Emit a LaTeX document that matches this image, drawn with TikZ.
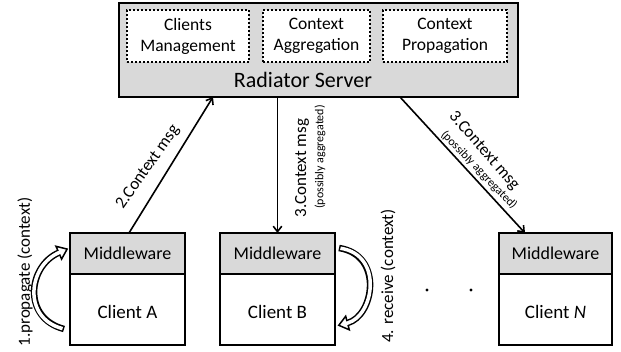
\documentclass[tikz,border=0pt]{standalone}
\usepackage{fontspec}
\setmainfont{Carlito}
\usetikzlibrary{arrows.meta,calc}
\definecolor{boxgray}{HTML}{D9D9D9}
\begin{document}
\begin{tikzpicture}[x=1pt,y=-1pt,
  box/.style={draw, line width=1.8pt, inner sep=0pt, outer sep=0pt, anchor=north west},
  dotbox/.style={draw, line width=2pt, dash pattern=on 2pt off 2pt, fill=white, inner sep=0pt, outer sep=0pt,
    anchor=north west, align=center, font=\fontsize{17.5}{21}\selectfont},
  mw/.style={box, fill=boxgray, minimum width=115pt, minimum height=41pt, font=\fontsize{18}{21}\selectfont},
  client/.style={box, minimum width=115pt, minimum height=112pt},
  ctext/.style={font=\fontsize{19}{22}\selectfont, inner sep=0pt},
  lbl/.style={font=\fontsize{17}{20}\selectfont, inner sep=0pt},
  small/.style={font=\fontsize{12}{14}\selectfont, inner sep=0pt},
  arr/.style={line width=1.6pt, -{Straight Barb[length=5.5pt, width=8.5pt, line width=1.6pt]}},
  band/.style={line width=6.5pt, black},
  bandin/.style={line width=3.5pt, white},
  head/.style={fill=white, draw=black, line width=1.5pt, line join=miter},
  dot/.style={circle, fill=black, inner sep=0pt, minimum size=3.4pt}
]
\useasboundingbox (0,0) rectangle (621,351);

% server
\node[box, fill=boxgray, minimum width=399pt, minimum height=94pt] (srv) at (119,3) {};
\node[dotbox, minimum width=122pt, minimum height=52pt] (cm) at (127,10) {Clients\\Management};
\node[dotbox, minimum width=107pt, minimum height=52pt] (ca) at (263,10) {Context\\Aggregation};
\node[dotbox, minimum width=124pt, minimum height=52pt] (cp) at (383,10) {Context\\Propagation};
\node[font=\fontsize{22}{26}\selectfont, inner sep=0pt] (rs) at (303,80) {Radiator Server};

% clients
\node[client] (cA) at (70,233) {};
\node[mw] (mA) at (70,233) {Middleware};
\node[ctext] (tA) at ($(mA.south)!0.5!(cA.south)+(0,2)$) {Client A};

\node[client] (cB) at (220,233) {};
\node[mw] (mB) at (220,233) {Middleware};
\node[ctext] (tB) at ($(mB.south)!0.5!(cB.south)+(0,2)$) {Client B};

\node[client, minimum width=113pt] (cN) at (499,233) {};
\node[mw, minimum width=113pt] (mN) at (499,233) {Middleware};
\node[ctext] (tN) at ($(mN.south)!0.5!(cN.south)+(0,2)$) {Client \textit{N}};

% dots
\node[dot] (d1) at (427,290) {};
\node[dot] (d2) at (471,290) {};

% arrows
\draw[arr] ($(cA.north west)+(59,0)$) -- ($(srv.south west)+(94,0)$);
\draw[arr] (mB.north |- srv.south) -- (mB.north);
\draw[arr] ($(srv.south west)+(281,0)$) -- ($(mN.north west)+(26,0)$);

% labels
\node[lbl, rotate=55] (l2) at (148,167) {2.Context msg};
\node[lbl, rotate=90] (l3a) at (302,168) {3.Context msg};
\node[small, rotate=90] (l3b) at (320,157) {(possibly aggregated)};
\node[lbl, rotate=-49] (l3c) at (484,151) {3.Context msg};
\node[small, rotate=-46] (l3d) at (479,170) {(possibly aggregated)};
\node[lbl, rotate=90] (l1) at (25,272) {1.propagate (context)};
\node[lbl, rotate=90] (l4) at (388,276) {4. receive (context)};

% curved hollow arrow left (propagate)
\draw[band] (64,329) .. controls (22,318) and (28,266) .. (58.8,252.7);
\draw[bandin, shorten <=1.5pt] (64,329) .. controls (22,318) and (28,266) .. (58.8,252.7);
\draw[head] (61.6,259.1) -- (67.1,249.1) -- (56.0,246.3) -- cycle;
\draw[bandin] (57.4,253.3) -- (60.2,252.1);

% curved hollow arrow right (receive)
\draw[band] (339,248) .. controls (384,255) and (374,316) .. (347.5,323);
\draw[bandin, shorten <=1.5pt] (339,248) .. controls (384,255) and (374,316) .. (347.5,323);
\draw[head] (349.3,329.8) -- (338.8,325.3) -- (345.7,316.2) -- cycle;
\draw[bandin] (348.95,322.6) -- (346.05,323.4);
\end{tikzpicture}
\end{document}
